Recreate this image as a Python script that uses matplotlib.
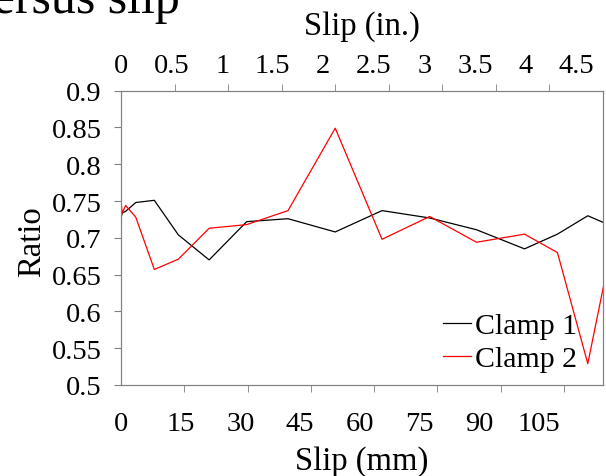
import matplotlib.pyplot as plt

plt.rcParams['font.family'] = ['Liberation Serif', 'DejaVu Serif']

# slip positions (mm) and ratios
slip_mm = [0, 0.3, 1.1, 3.5, 7.9, 13.6, 20.9, 29.8, 39.6, 50.8, 61.9, 73.2, 84.3, 95.7, 103.5, 110.7, 118.0]
clamp1 = [0.727, 0.734, 0.736, 0.748, 0.751, 0.704, 0.670, 0.722, 0.726, 0.708, 0.737, 0.727, 0.711, 0.685, 0.705, 0.730, 0.712]
clamp2 = [0.749, 0.734, 0.744, 0.728, 0.657, 0.671, 0.713, 0.718, 0.737, 0.849, 0.698, 0.729, 0.694, 0.705, 0.680, 0.529, 0.735]

mm_ticks = [0, 15, 30, 45, 60, 75, 90, 105]
mm_labels = ['0', '15', '30', '45', '60', '75', '90', '105']
in_ticks = [0, 0.5, 1, 1.5, 2, 2.5, 3, 3.5, 4]
in_labels = ['0', '0.5', '1', '1.5', '2', '2.5', '3', '3.5', '4', '4.5']
y_ticks = [0.5, 0.55, 0.6, 0.65, 0.7, 0.75, 0.8, 0.85, 0.9]
y_labels = ['0.5', '0.55', '0.6', '0.65', '0.7', '0.75', '0.8', '0.85', '0.9']

# labels in the original sit a bit left of their ticks
shift = 0.944
grey = '#808080'
tick_fs = 20.5
label_fs = 23.5

fig = plt.figure(figsize=(6.06, 4.77), dpi=100)
ax = fig.add_axes([0.1997, 0.1908, 0.7953, 0.617])

ax.plot(slip_mm, clamp1, color='black', lw=0.9, label='Clamp 1')
ax.plot(slip_mm, clamp2, color='#ff0000', lw=0.9, label='Clamp 2')
ax.set_xlim(0, 114.3)
ax.set_ylim(0.5, 0.9)

ax.set_xticks([t * shift for t in mm_ticks])
ax.set_xticklabels(mm_labels)
ax.set_xticks(mm_ticks, minor=True)
ax.tick_params(axis='x', which='major', length=0, pad=18.4, labelsize=tick_fs)
ax.tick_params(axis='x', which='minor', length=5, color=grey, direction='out')

ax.set_yticks(y_ticks)
ax.set_yticklabels(y_labels)
ax.tick_params(axis='y', length=5, color=grey, direction='out', pad=8.9, labelsize=tick_fs)

for s in ax.spines.values():
    s.set_color(grey)

ax.set_xlabel('Slip (mm)', fontsize=label_fs, labelpad=7)
ax.set_ylabel('Ratio', fontsize=label_fs, labelpad=3.5)
ax.yaxis.label.set_y(0.49)

top = ax.twiny()
top.set_xlim(0, 4.5)
top.set_xticks([i * 0.5 * shift for i in range(len(in_labels))])
top.set_xticklabels(in_labels)
top.set_xticks(in_ticks, minor=True)
top.tick_params(axis='x', which='major', length=0, pad=8.8, labelsize=tick_fs)
top.tick_params(axis='x', which='minor', length=5, color=grey, direction='out')
for s in top.spines.values():
    s.set_color(grey)
top.set_xlabel('Slip (in.)', fontsize=label_fs, labelpad=14.3)

ax.legend(loc='lower right', bbox_to_anchor=(0.946, 0.043), frameon=False, fontsize=21.5,
          handlelength=0.94, handletextpad=0.13, labelspacing=0.2, borderpad=0, borderaxespad=0)

fig.text(180 / 606, 1 - 12.5 / 477, 'Ratio versus slip', fontsize=36, ha='right', va='baseline')

fig.savefig('out.png', dpi=100)
